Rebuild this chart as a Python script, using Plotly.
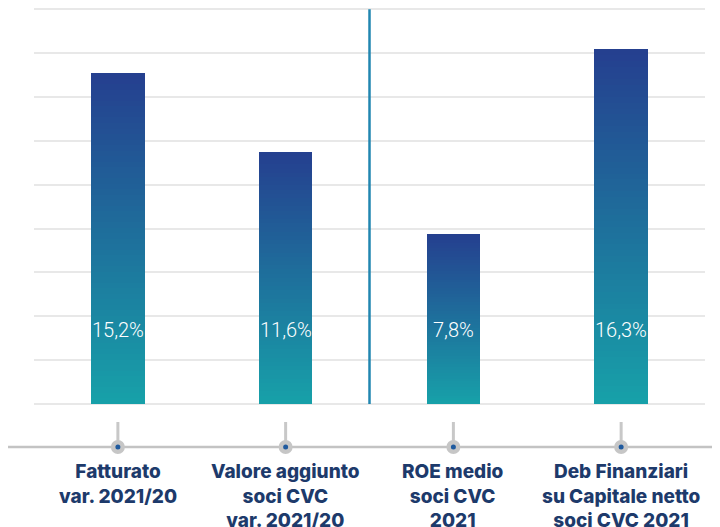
import plotly.graph_objects as go

categories = ["Fatturato", "Valore aggiunto", "ROE medio", "Deb Finanziari"]
category_labels = [
    "Fatturato<br>var. 2021/20",
    "Valore aggiunto<br>soci CVC<br>var. 2021/20",
    "ROE medio<br>soci CVC<br>2021",
    "Deb Finanziari<br>su Capitale netto<br>soci CVC 2021",
]
values = [15.2, 11.6, 7.8, 16.3]
value_labels = ["15,2%", "11,6%", "7,8%", "16,3%"]

TOP = (0x25, 0x3F, 0x8F)
BOTTOM = (0x17, 0xA1, 0xA9)
N = 60

PX_PER_UNIT = 21.75          # vertical scale of the value axis
GRID_STEP = 2.016            # spacing of the decorative grid lines
Y_MIN = -2 / PX_PER_UNIT
Y_MAX = 396 / PX_PER_UNIT
PLOT_H = 398


def mix(t):
    r, g, b = (round(BOTTOM[i] + (TOP[i] - BOTTOM[i]) * t) for i in range(3))
    return f"rgb({r},{g},{b})"


fig = go.Figure()
for k in range(N):
    fig.add_trace(go.Bar(
        x=categories,
        y=[v / N for v in values],
        width=0.32,
        marker=dict(color=mix((k + 0.5) / N), line=dict(width=0)),
        hoverinfo="skip",
        showlegend=False,
    ))

for c, t in zip(categories, value_labels):
    fig.add_annotation(
        x=c, y=3.4, xref="x", yref="y", text=t, showarrow=False,
        font=dict(family="Roboto, sans-serif", size=20, color="white", weight=300),
    )

for c, t in zip(categories, category_labels):
    fig.add_annotation(
        x=c, y=-52 / PLOT_H, xref="x", yref="paper", yanchor="top", text=t, showarrow=False,
        font=dict(family="Inter, Liberation Sans, sans-serif", size=19, color="#1d3a6b", weight=800),
    )

# separator line between groups
fig.add_shape(type="line", xref="x", yref="y", x0=1.5, x1=1.5, y0=0, y1=9 * GRID_STEP,
              line=dict(color="#2186b0", width=2.5))
# bottom axis line with ticks and dots
AXIS_Y = -41 / PLOT_H
STEM_TOP = -16 / PLOT_H
fig.add_shape(type="line", xref="paper", yref="paper", x0=-0.0387, x1=1.03,
              y0=AXIS_Y, y1=AXIS_Y, line=dict(color="#c3c3c3", width=2.5))
for i, _ in enumerate(categories):
    fig.add_shape(type="line", xref="x", yref="paper", x0=i, x1=i,
                  y0=STEM_TOP, y1=AXIS_Y, line=dict(color="#c8c8c8", width=3))
    fig.add_shape(type="circle", xref="x", yref="paper",
                  xsizemode="pixel", ysizemode="pixel", xanchor=i, yanchor=AXIS_Y,
                  x0=-7, x1=7, y0=-7, y1=7,
                  fillcolor="#c6c6c6", line=dict(width=0))
    fig.add_shape(type="circle", xref="x", yref="paper",
                  xsizemode="pixel", ysizemode="pixel", xanchor=i, yanchor=AXIS_Y,
                  x0=-2.5, x1=2.5, y0=-2.5, y1=2.5,
                  fillcolor="#1f5a9e", line=dict(width=0))

fig.update_layout(
    width=712, height=519,
    margin=dict(l=26, r=15, t=0, b=519 - PLOT_H),
    barmode="stack",
    bargap=0,
    plot_bgcolor="white",
    paper_bgcolor="white",
    showlegend=False,
    xaxis=dict(showticklabels=False, showgrid=False, zeroline=False, showline=False,
               ticks="", fixedrange=True),
    yaxis=dict(range=[Y_MIN, Y_MAX], tick0=0, dtick=GRID_STEP, showgrid=True,
               gridcolor="#e8e8e8", gridwidth=2,
               showticklabels=False, zeroline=False, showline=False, ticks="", fixedrange=True),
)

fig.write_html("out.html")
